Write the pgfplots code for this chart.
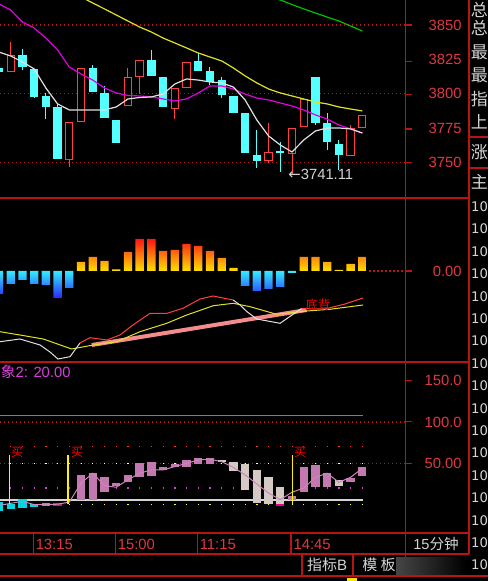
\documentclass[border=0pt]{standalone}
\usepackage{pgfplots}
\pgfplotsset{compat=1.18}
\usepackage{pgfplotstable}
\usepackage{fontspec}
\setmainfont{Liberation Sans}
\newfontfamily\cjk{Noto Sans CJK SC}
\newfontfamily\dejavu{DejaVu Sans}
\newcommand\fs[1]{\fontsize{#1}{#1}\selectfont}

\definecolor{frm}{RGB}{185,20,20}
\definecolor{lab}{RGB}{225,55,65}
\definecolor{cyc}{RGB}{84,255,255}
\definecolor{upr}{RGB}{255,64,64}
\definecolor{maw}{RGB}{225,225,225}
\definecolor{mam}{RGB}{225,0,225}
\definecolor{may}{RGB}{225,225,40}
\definecolor{mag}{RGB}{0,190,0}
\definecolor{macr}{RGB}{255,20,20}
\definecolor{macy}{RGB}{255,225,0}
\definecolor{macc}{RGB}{50,235,255}
\definecolor{macb}{RGB}{40,40,255}
\definecolor{trend}{RGB}{245,140,140}
\definecolor{pbox}{RGB}{195,120,175}
\definecolor{gbox}{RGB}{212,202,195}
\definecolor{cbox}{RGB}{0,215,225}
\definecolor{blueln}{RGB}{60,140,230}
\definecolor{txtg}{RGB}{212,212,212}
\definecolor{kdj}{RGB}{205,135,185}
\definecolor{magt}{RGB}{220,60,220}

% candles: up (red, hollow) and down (cyan, filled)
\pgfplotstableread{
i o h l c
1 3815.8 3837.6 3815.8 3828.2
6 3751.7 3779.4 3746.6 3779.4
7 3779.4 3818.7 3779.4 3818.7
11 3791.0 3818.7 3791.0 3812.1
12 3812.1 3824.5 3799.7 3824.5
15 3788.8 3804.1 3781.5 3804.1
16 3804.1 3823.1 3804.1 3823.1
23 3751.0 3778.6 3749.5 3757.5
25 3756.0 3775.0 3741.11 3775.0
26 3775.7 3796.1 3775.7 3796.1
30 3754.6 3777.2 3754.6 3775.0
31 3775.0 3784.5 3775.0 3784.5
}\up
\pgfplotstableread{
i o h l c
0 3818.7 3821.6 3814.3 3815.8
2 3828.2 3832.5 3817.2 3819.4
3 3818.0 3818.0 3796.8 3797.6
4 3798.3 3800.5 3781.5 3790.3
5 3790.3 3793.2 3752.4 3752.4
8 3818.7 3820.9 3801.2 3801.2
9 3800.5 3805.6 3782.3 3782.3
10 3780.8 3780.8 3764.1 3764.1
13 3824.5 3831.8 3812.9 3812.9
14 3812.1 3812.1 3790.3 3790.3
17 3823.8 3829.6 3816.5 3816.5
18 3816.5 3819.4 3806.3 3808.5
19 3810.0 3812.1 3796.8 3799.0
20 3798.3 3798.3 3785.9 3785.9
21 3785.9 3785.9 3756.8 3756.8
22 3755.3 3773.5 3745.9 3751.0
24 3758.2 3764.8 3742.9 3756.8
27 3812.1 3812.1 3777.2 3778.6
28 3778.6 3785.9 3759.0 3764.8
29 3763.3 3766.2 3744.4 3755.3
}\dn
% moving averages
\pgfplotstableread{
i w m y g
0 3830.3 3865.3 nan nan
1 3827.4 3860.9 nan nan
2 3823.1 3852.2 nan nan
3 3818.0 3847.8 nan nan
4 3804.1 3840.5 nan nan
5 3792.5 3831.8 nan nan
6 3788.1 3819.4 nan nan
7 3788.1 3814.3 3870.4 nan
8 3788.1 3809.9 3866.0 nan
9 3788.1 3804.1 3861.7 nan
10 3790.3 3800.5 3857.3 nan
11 3796.1 3798.7 3852.9 nan
12 3797.2 3798.3 3848.5 nan
13 3797.6 3797.6 3844.9 nan
14 3799.7 3796.1 3840.5 nan
15 3807.0 3794.7 3836.9 nan
16 3810.7 3796.1 3833.3 nan
17 3809.9 3800.5 3829.6 nan
18 3808.5 3805.6 3826.7 nan
19 3807.8 3805.6 3823.8 nan
20 3804.8 3803.4 3818.7 nan
21 3795.4 3799.7 3812.9 nan
22 3780.8 3796.8 3807.8 nan
23 3769.2 3795.4 3803.4 3870.9
24 3762.6 3793.2 3800.5 3868.2
25 3757.5 3791.0 3798.3 3864.9
26 3766.2 3788.1 3796.1 3861.7
27 3772.8 3784.5 3793.9 3858.7
28 3775.0 3781.5 3792.5 3855.8
29 3775.0 3777.2 3790.3 3852.9
30 3774.3 3774.3 3788.8 3849.3
31 3771.3 3771.3 3787.4 3845.6
}\ma
% MACD histogram
\pgfplotstableread{
i v
7 9
8 14
9 10
10 1.5
11 19
12 32
13 32
14 20
15 21
16 27
17 25
18 20
19 13
20 3
26 14
27 14
28 9
29 1
30 7
31 14
}\mpos
\pgfplotstableread{
i v
0 -23
1 -13
2 -9
3 -13
4 -14
5 -27
6 -17
21 -15
22 -20
23 -18
24 -16
25 -2
}\mneg
% lower oscillator boxes
\pgfplotstableread{
i lo hi
0 -7.7 3.1
1 -5.3 0.7
2 -4.1 6.8
3 -2.9 0.7
}\cb
\pgfplotstableread{
i lo hi
4 -1.7 1.9
7 5.6 35.8
8 5.6 38.3
9 15.3 33.4
10 22.5 26.2
11 27.4 35.8
12 33.4 50.4
13 34.6 51.6
14 41.9 45.5
15 45.5 49.2
16 45.5 54.0
17 49.2 56.4
18 49.2 56.4
25 5.6 10.4
26 15.3 45.5
27 21.3 47.9
28 21.3 38.3
30 27.4 32.2
31 34.6 45.5
}\pb
\pgfplotstableread{
i lo hi
19 51.6 54.0
20 40.7 51.6
21 17.7 49.2
22 1.9 41.9
23 0.7 33.4
24 0.7 21.3
29 22.5 29.8
}\gb
\pgfplotstableread{
i lo hi
5 -1.7 1.9
24 -1.7 0.7
}\mb
\pgfplotstableread{
i v
0 -1
1 1.5
2 4
3 0
4 0
5 0.5
6 3
7 26
8 38
9 23
10 21
11 30
12 38
13 42
14 42
15 46
16 50
17 54
18 55
19 52
20 45
21 36
22 25
23 14
24 6
25 15
26 20
27 33
28 38
29 27
30 33
31 44
}\osc

\pgfplotsset{base/.style={
  scale only axis, width=202.75pt, xmin=0.0853, xmax=34.684,
  axis line style={draw=none}, tick style={draw=none},
  xtick=\empty, ytick pos=right, yticklabel pos=right,
  yticklabel style={anchor=east, inner sep=0pt, xshift=28.25pt, text=lab, font=\fs{7.4pt}},
  unbounded coords=jump, anchor=north west,
}}
\tikzset{gridd/.style={frm, line width=0.6pt, dash pattern=on 0.6pt off 1.4pt}}

\begin{document}
\begin{tikzpicture}
\useasboundingbox (0pt,0pt) rectangle (244pt,-290.5pt);
\fill[black] (0pt,0pt) rectangle (244pt,-290.5pt);

% ---------------- top: price ----------------
\begin{axis}[base, at={(0pt,0pt)}, height=99pt,
  ymin=3723.99, ymax=3868.21,
  ytick={3750,3775,3800,3825,3850}, yticklabels={3750,3775,3800,3825,3850}]
\draw[gridd] (axis cs:0.0853,3850) -- (axis cs:34.684,3850);
\draw[gridd] (axis cs:0.0853,3800) -- (axis cs:34.684,3800);
\draw[gridd] (axis cs:0.0853,3750) -- (axis cs:34.684,3750);
% down candles
\addplot[draw=none, mark=none, forget plot, error bars/.cd, y dir=plus, y explicit, error mark=none,
  error bar style={draw=cyc, line width=0.5pt}]
  table[x=i, y=l, y error expr=\thisrow{h}-\thisrow{l}] {\dn};
\addplot[draw=none, mark=none, forget plot, error bars/.cd, y dir=plus, y explicit, error mark=none,
  error bar style={draw=cyc, line width=4.15pt}]
  table[x=i, y=c, y error expr={max(\thisrow{o}-\thisrow{c},0.8)}] {\dn};
% up candles
\addplot[draw=none, mark=none, forget plot, error bars/.cd, y dir=plus, y explicit, error mark=none,
  error bar style={draw=upr, line width=0.5pt}]
  table[x=i, y=l, y error expr=\thisrow{h}-\thisrow{l}] {\up};
\addplot[draw=none, mark=none, forget plot, error bars/.cd, y dir=plus, y explicit, error mark=none,
  error bar style={draw=upr, line width=4.15pt}]
  table[x=i, y=o, y error expr=\thisrow{c}-\thisrow{o}] {\up};
\addplot[draw=none, mark=none, forget plot, error bars/.cd, y dir=plus, y explicit, error mark=none,
  error bar style={draw=black, line width=3.15pt}]
  table[x=i, y expr=\thisrow{o}+0.75, y error expr=\thisrow{c}-\thisrow{o}-1.5] {\up};
% moving averages
\addplot[mag, line width=0.6pt, mark=none] table[x=i, y=g] {\ma};
\addplot[may, line width=0.6pt, mark=none] table[x=i, y=y] {\ma};
\addplot[mam, line width=0.6pt, mark=none] table[x=i, y=m] {\ma};
\addplot[maw, line width=0.6pt, mark=none] table[x=i, y=w] {\ma};
\node[anchor=west, inner sep=0pt, text=txtg, font=\fs{7.4pt}] at (axis cs:24.66,3741.11) {{\dejavu ←}3741.11};
\end{axis}

% ---------------- middle: MACD ----------------
\begin{axis}[base, at={(0pt,-99pt)}, height=82pt,
  ymin=-91, ymax=73, ytick={0}, yticklabels={0.00}]
\addplot[ybar, bar width=4.15pt, bar shift=0pt, draw=none, top color=macr, bottom color=macy] table[x=i, y=v] {\mpos};
\addplot[ybar, bar width=4.15pt, bar shift=0pt, draw=none, top color=macc, bottom color=macb] table[x=i, y=v] {\mneg};
\draw[gridd] (axis cs:31.6,0) -- (axis cs:34.684,0);
\addplot[trend, line width=2pt, mark=none] coordinates {(7.91,-74) (26.25,-39)};
\addplot[may, line width=0.5pt, mark=none] coordinates {(0.085,-60.7) (1.79,-64) (3.78,-68) (6.20,-78) (8.05,-74) (10.04,-70.7) (12.03,-60.7) (14.31,-52.3) (16.02,-44) (18.29,-34.7) (19.99,-32.3) (21.42,-35.7) (23.69,-43.3) (26.25,-40) (28.24,-38.3) (31.06,-34)};
\addplot[maw, line width=0.5pt, mark=none] coordinates {(0.085,-70.7) (1.79,-68) (3.50,-74) (4.35,-81) (5.03,-88) (6.06,-85.7) (6.91,-72)};
\addplot[upr, line width=0.5pt, mark=none] coordinates {(6.91,-72) (7.76,-66.7) (9.21,-69) (10.32,-64) (11.43,-54) (12.88,-42.3) (14.33,-42.3) (15.70,-37.3) (17.15,-28) (18.26,-25) (19.97,-29)};
\addplot[maw, line width=0.5pt, mark=none] coordinates {(19.97,-29) (20.56,-34) (21.16,-40.7) (21.99,-48) (23.98,-52.3) (25.83,-37.3)};
\addplot[upr, line width=0.5pt, mark=none] coordinates {(25.83,-37.3) (26.96,-38) (27.82,-38) (29.52,-33) (31.06,-27)};
\end{axis}

% ---------------- bottom: oscillator ----------------
\begin{axis}[base, at={(0pt,-181pt)}, height=85.5pt,
  ymin=-34.38, ymax=172.64, ytick={50,100,150}, yticklabels={50.00,100.0,150.0},
  xtick={3,10,17,25}, xticklabels={13:15,15:00,11:15,14:45}, xtick pos=bottom,
  xticklabel style={anchor=west, inner sep=0pt, xshift=0.6pt, yshift=-5.5pt, text=lab, font=\fs{7.4pt}}]
\draw[gridd] (axis cs:0.0853,100) -- (axis cs:34.684,100);
\draw[gridd] (axis cs:0.0853,50) -- (axis cs:34.684,50);
\addplot[blueln, line width=0.6pt, mark=none] coordinates {(0.0853,108) (31.06,108)};
\draw[red!80!white, line width=0.6pt, dash pattern=on 0.6pt off 5.26pt] (axis cs:0.957,70) -- (axis cs:31.2,70);
\draw[white, line width=0.6pt, dash pattern=on 0.6pt off 5.26pt] (axis cs:0.957,50) -- (axis cs:31.2,50);
\draw[magt, line width=0.6pt, dash pattern=on 0.6pt off 5.26pt] (axis cs:0.957,20) -- (axis cs:31.2,20);
\draw[yellow!80!white, line width=0.6pt, dash pattern=on 0.6pt off 5.26pt] (axis cs:0.957,0) -- (axis cs:31.2,0);
\addplot[txtg, line width=0.6pt, mark=none] coordinates {(0.0853,5.6) (31.06,5.6)};
\addplot[draw=none, mark=none, forget plot, error bars/.cd, y dir=plus, y explicit, error mark=none,
  error bar style={draw=cbox, line width=4.15pt}]
  table[x=i, y=lo, y error expr=\thisrow{hi}-\thisrow{lo}] {\cb};
\addplot[draw=none, mark=none, forget plot, error bars/.cd, y dir=plus, y explicit, error mark=none,
  error bar style={draw=pbox, line width=4.15pt}]
  table[x=i, y=lo, y error expr=\thisrow{hi}-\thisrow{lo}] {\pb};
\addplot[draw=none, mark=none, forget plot, error bars/.cd, y dir=plus, y explicit, error mark=none,
  error bar style={draw=gbox, line width=4.15pt}]
  table[x=i, y=lo, y error expr=\thisrow{hi}-\thisrow{lo}] {\gb};
\addplot[draw=none, mark=none, forget plot, error bars/.cd, y dir=plus, y explicit, error mark=none,
  error bar style={draw=magenta, line width=4.15pt}]
  table[x=i, y=lo, y error expr=\thisrow{hi}-\thisrow{lo}] {\mb};
\addplot[kdj, line width=0.5pt, mark=none] table[x=i, y=v] {\osc};
\addplot[yellow, line width=0.8pt, mark=none] coordinates {(0.88,0.7) (0.88,60)};
\addplot[yellow, line width=0.8pt, mark=none] coordinates {(5.91,0.7) (5.91,60)};
\addplot[yellow, line width=0.8pt, mark=none] coordinates {(25.03,0.7) (25.03,60)};
\end{axis}

% ---------------- frames and texts (pixel scope) ----------------
\begin{scope}[x=0.5pt, y=-0.5pt]
\begin{scope}[frm, line width=0.6pt]
\draw (0,198) -- (469,198);
\draw (0,362) -- (469,362);
\draw (0,533) -- (469,533);
\draw (0,554) -- (469,554);
\draw (0,576) -- (488,576);
\draw (405.5,0) -- (405.5,576);
\draw (469,0) -- (469,554);
\foreach \x in {33.2,115.2,197.2,291} \draw (\x,533) -- (\x,554);
\draw (302,554) -- (302,576);
\draw (353,554) -- (353,576);
\draw (469,137) -- (488,137);
\draw (469,168) -- (488,168);
\foreach \y in {25,61.7,94.3,129,162.3,271,380.7,421.7,463.3} \draw (405.5,\y) -- (412,\y);
\end{scope}
% magenta title in lower panel
\node[anchor=west, inner sep=0pt, text=magt, font=\fs{7.4pt}] at (0.5,372) {{\cjk 象}2: 20.00};
% buy marks
\foreach \xx in {17,77,300} \node[text=red, font=\fs{6pt}\cjk, inner sep=0pt] at (\xx,452) {买};
% divergence label
\node[text=red, font=\fs{6.2pt}\cjk, inner sep=0pt] at (318,305) {底背};
% right column
\foreach \yy/\ch in {9.5/总,28/总,52/最,75/最,99/指,122/上,152/涨,182/主}
  \node[anchor=west, inner sep=0pt, text=txtg, font=\fs{8.5pt}\cjk] at (470.5,\yy) {\ch};
\foreach \yy in {206.7,229.1,251.5,273.9,296.3,318.7,341.1,363.5,385.9,408.3,430.7,453.1,475.5,497.9,520.3,542.7,565.1}
  \node[anchor=west, inner sep=0pt, text=txtg, font=\fs{6.6pt}\dejavu] at (470.8,\yy) {10};
% bottom strip
\node[text=txtg, font=\fs{7.3pt}, inner sep=0pt] at (436,544) {15{\cjk 分钟}};
\node[text=txtg, font=\fs{7.5pt}, inner sep=0pt] at (327,565) {{\cjk 指标}B};
\node[text=txtg, font=\fs{7.5pt}\cjk, inner sep=0pt] at (379,565) {模 板};
\shade[left color=gray!55!black, right color=black] (396,557) rectangle (466,574);
\fill[yellow!85!orange] (347,578) rectangle (357,581);
\end{scope}
\end{tikzpicture}
\end{document}
